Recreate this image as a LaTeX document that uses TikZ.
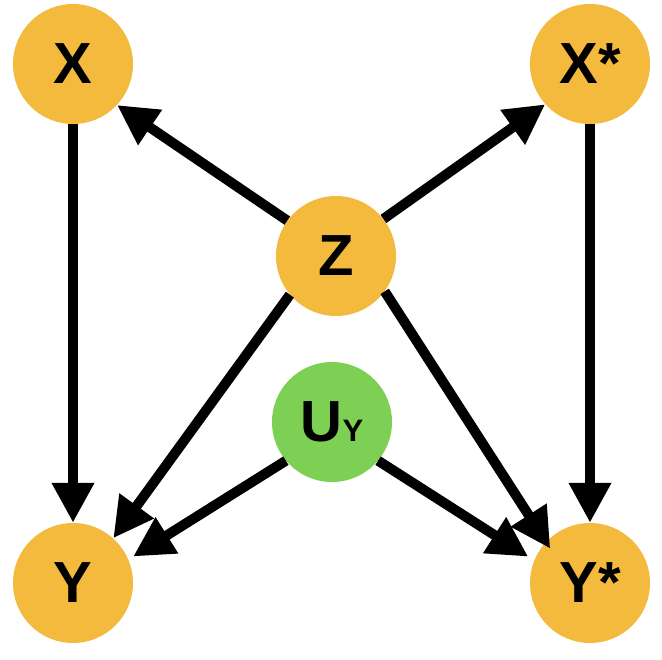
\documentclass[tikz,border=0pt]{standalone}
\usepackage{fontspec}
\setmainfont{Liberation Sans}
\usetikzlibrary{arrows.meta}
\definecolor{nodeorange}{RGB}{243,186,62}
\definecolor{nodegreen}{RGB}{125,208,84}
\begin{document}
\begin{tikzpicture}[x=1pt,y=-1pt,
  var/.style={circle,minimum size=120pt,inner sep=0pt,fill=nodeorange,
    font=\fontsize{58}{58}\selectfont\bfseries},
  noise/.style={var,fill=nodegreen},
  edge/.style={line width=10pt,-{Triangle[length=40pt,width=40pt]}}]
\useasboundingbox (0,0) rectangle (662,660);
\node[var] (X) at (73,64) {X};
\node[var] (Xs) at (590,64) {X*};
\node[var] (Z) at (336,256) {Z};
\node[noise] (U) at (332,422) {U{\fontsize{31}{31}\selectfont Y}};
\node[var] (Y) at (73,583) {Y};
\node[var] (Ys) at (590,583) {Y*};
\draw[edge] (X) -- (Y);
\draw[edge] (Xs) -- (Ys);
\draw[edge] (Z.144) -- (X.-43);
\draw[edge] (Z.38) -- (Xs.-138);
\draw[edge] (Z.-140) -- (Y.48);
\draw[edge,shorten >=-8pt] (Z.-36) -- (Ys.137);
\draw[edge,shorten >=5.5pt] (U.-140) -- (Y.23);
\draw[edge,shorten >=7pt] (U.-40) -- (Ys.158);
\end{tikzpicture}
\end{document}
